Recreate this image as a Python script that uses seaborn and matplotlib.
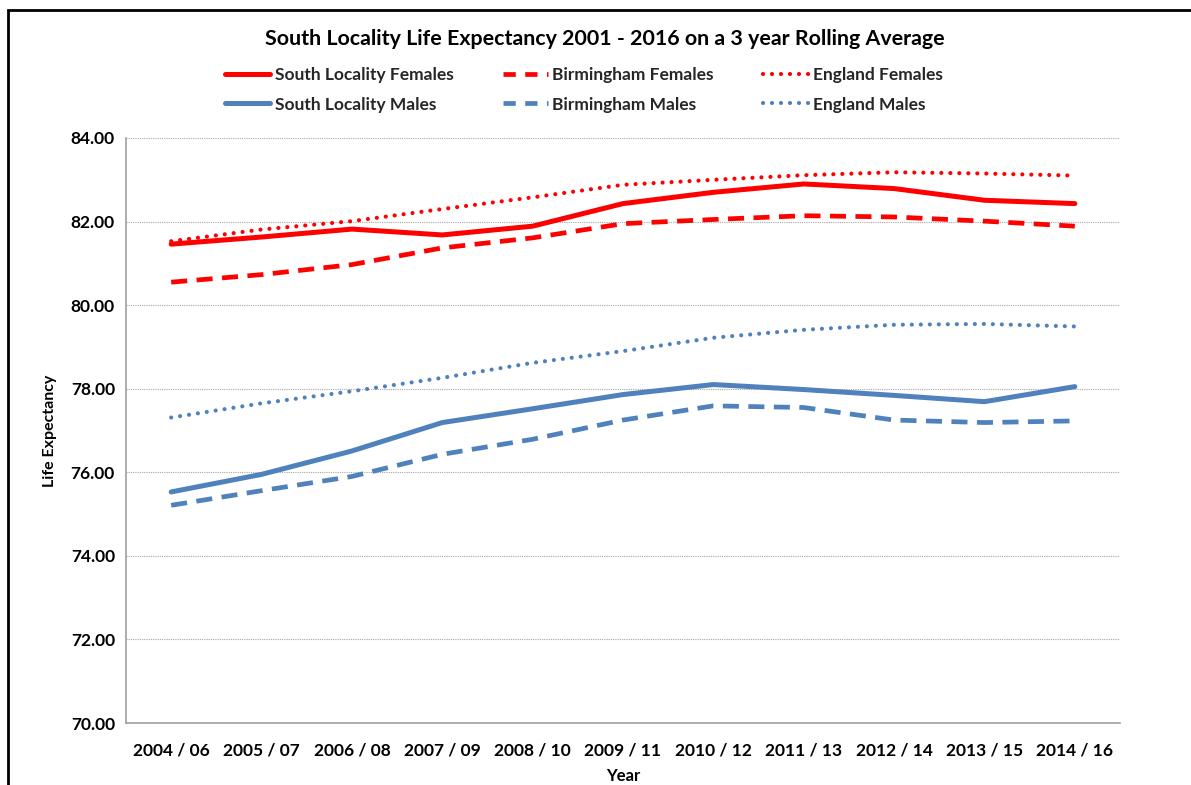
import numpy as np
import pandas as pd
import seaborn as sns
import matplotlib.pyplot as plt
from matplotlib.lines import Line2D
from matplotlib.patches import Rectangle

# Data
years = ['2004 / 06', '2005 / 07', '2006 / 08', '2007 / 09', '2008 / 10', '2009 / 11',
         '2010 / 12', '2011 / 13', '2012 / 14', '2013 / 15', '2014 / 16']
south_females = [81.46, 81.63, 81.82, 81.68, 81.89, 82.43, 82.70, 82.90, 82.79, 82.51, 82.43]
bham_females = [80.55, 80.73, 80.97, 81.37, 81.61, 81.95, 82.05, 82.14, 82.11, 82.01, 81.89]
england_females = [81.53, 81.81, 82.01, 82.30, 82.58, 82.88, 83.00, 83.11, 83.18, 83.15, 83.10]
south_males = [75.53, 75.95, 76.51, 77.19, 77.52, 77.86, 78.10, 77.98, 77.84, 77.69, 78.05]
bham_males = [75.21, 75.56, 75.90, 76.43, 76.79, 77.25, 77.59, 77.55, 77.25, 77.19, 77.23]
england_males = [77.31, 77.65, 77.94, 78.26, 78.62, 78.90, 79.22, 79.41, 79.53, 79.55, 79.49]

RED = '#FF0000'
BLUE = '#4F81BD'
FONT = 'Lato'

sns.set_theme(style='white')
plt.rcParams['font.family'] = [FONT, 'DejaVu Sans']
plt.rcParams['font.weight'] = 'bold'

fig = plt.figure(figsize=(11.91, 7.85), dpi=100)
ax = fig.add_axes([126 / 1191, 1 - 723 / 785, (1120 - 126) / 1191, (723 - 138) / 785])

xs = np.arange(len(years))
series = [
    ('South Locality Females', south_females, RED, 'solid'),
    ('Birmingham Females', bham_females, RED, 'dashed'),
    ('England Females', england_females, RED, 'dotted'),
    ('South Locality Males', south_males, BLUE, 'solid'),
    ('Birmingham Males', bham_males, BLUE, 'dashed'),
    ('England Males', england_males, BLUE, 'dotted'),
]

handles = {}
for name, vals, col, kind in series:
    df = pd.DataFrame({'x': xs, 'y': vals})
    if kind == 'solid':
        kw = dict(linewidth=3.6, solid_capstyle='round', solid_joinstyle='round')
        hkw = dict(linewidth=3.6)
    elif kind == 'dashed':
        kw = dict(linewidth=3.4, dashes=(3.4, 2.0), dash_capstyle='butt')
        hkw = dict(linewidth=3.4, dashes=(2.6, 2.0))
    else:
        kw = dict(linewidth=3.0, dashes=(0.01, 2.15), dash_capstyle='round')
        hkw = dict(linewidth=3.0, dashes=(0.01, 2.15), dash_capstyle='round')
    sns.lineplot(data=df, x='x', y='y', ax=ax, color=col, legend=False, **kw)
    handles[name] = Line2D([], [], color=col, label=name, **hkw)

# legend fills column by column: reorder so rows read females / males
legend_order = ['South Locality Females', 'South Locality Males',
                'Birmingham Females', 'Birmingham Males',
                'England Females', 'England Males']

# axes styling
ax.set_xlim(-0.5, len(years) - 0.5)
ax.set_ylim(70, 84)
ax.set_yticks(np.arange(70, 84.1, 2))
ax.set_yticklabels([f'{v:.2f}' for v in np.arange(70, 84.1, 2)])
ax.set_xticks(xs)
ax.set_xticklabels(years)
ax.set_xticks(np.arange(-0.5, len(years)), minor=True)
ax.tick_params(axis='x', which='major', length=0, pad=14, labelsize=12.5)
ax.tick_params(axis='x', which='minor', length=6, width=1, color='#A0A0A0', direction='out')
ax.tick_params(axis='y', which='major', length=5, width=1, color='#A0A0A0', direction='out',
               pad=3, labelsize=12.5)
for lab in ax.get_xticklabels() + ax.get_yticklabels():
    lab.set_fontweight('bold')
    lab.set_color('black')

ax.grid(axis='y', color='#A6A6A6', linestyle=(0, (1, 1)), linewidth=0.8)
ax.set_axisbelow(True)
for side in ['top', 'right']:
    ax.spines[side].set_visible(False)
for side in ['left', 'bottom']:
    ax.spines[side].set_color('#A0A0A0')
    ax.spines[side].set_linewidth(1.2)

ax.set_xlabel('Year', fontsize=12, fontweight='bold', labelpad=7, color='black')
ax.set_ylabel('Life Expectancy', fontsize=11.5, fontweight='bold', labelpad=10, color='black')

fig.text(605 / 1191, 1 - 39 / 785, 'South Locality Life Expectancy 2001 - 2016 on a 3 year Rolling Average',
         ha='center', va='center', fontsize=15.4, fontweight='bold', color='black')

fig.legend(handles=[handles[n] for n in legend_order], ncol=3, loc='center',
           bbox_to_anchor=(584 / 1191, 1 - 90 / 785),
           frameon=False, prop={'size': 12.5, 'weight': 'bold'}, handlelength=2.6,
           handletextpad=0.25, columnspacing=2.85, labelspacing=0.75)

# outer chart frame
fig.patches.append(Rectangle((8 / 1191, -0.05), 1.1, 1 - 10 / 785 + 0.05,
                             transform=fig.transFigure, fill=False, edgecolor='black',
                             linewidth=2))

fig.savefig('out.png', dpi=100, facecolor='white')
